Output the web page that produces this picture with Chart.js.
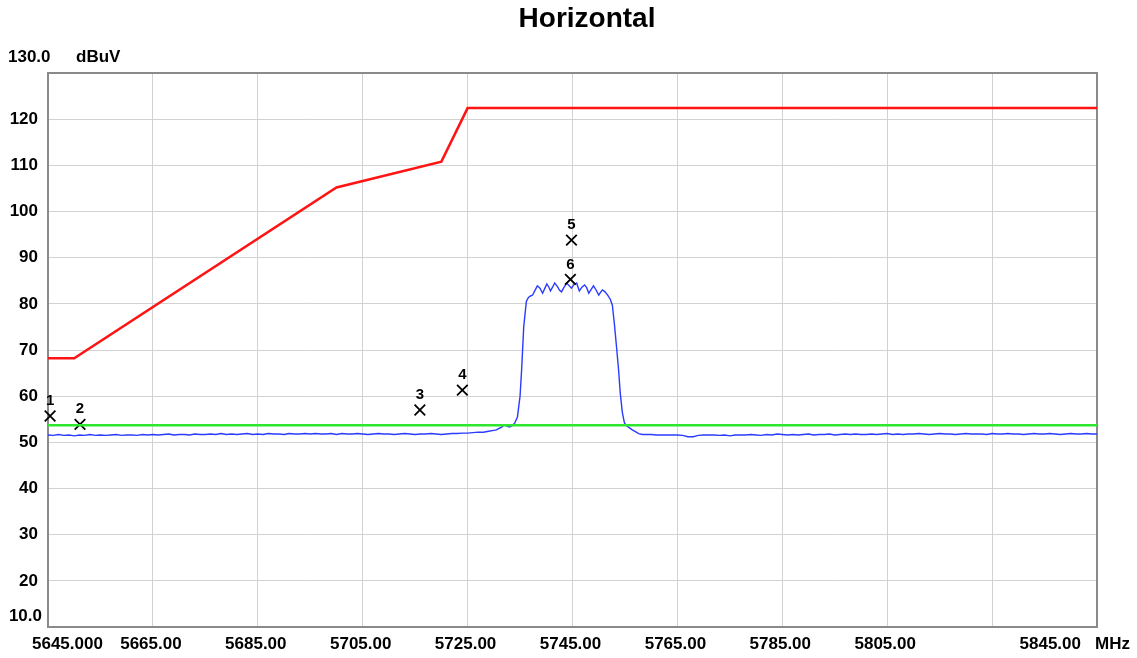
<!DOCTYPE html>
<html>
<head>
<meta charset="utf-8">
<title>Horizontal</title>
<script src="https://cdn.jsdelivr.net/npm/chart.js@4.4.1/dist/chart.umd.min.js"></script>
<style>
  html, body { margin: 0; padding: 0; background: #fff; }
  #wrap { width: 1137px; height: 658px; }
</style>
</head>
<body>
<div id="wrap"><canvas id="spectrum" width="1137" height="658"></canvas></div>
<script>
// measured trace (MHz / dBuV)
const traceFreq = [
  5645, 5646, 5647, 5648, 5649, 5650, 5651, 5652, 5653, 5654,
  5655, 5656, 5657, 5658, 5659, 5660, 5661, 5662, 5663, 5664,
  5665, 5666, 5667, 5668, 5669, 5670, 5671, 5672, 5673, 5674,
  5675, 5676, 5677, 5678, 5679, 5680, 5681, 5682, 5683, 5684,
  5685, 5686, 5687, 5688, 5689, 5690, 5691, 5692, 5693, 5694,
  5695, 5696, 5697, 5698, 5699, 5700, 5701, 5702, 5703, 5704,
  5705, 5706, 5707, 5708, 5709, 5710, 5711, 5712, 5713, 5714,
  5715, 5716, 5717, 5718, 5719, 5720, 5721, 5722,
  5723, 5724, 5725, 5726, 5727, 5728, 5729, 5730, 5730.5, 5731,
  5731.5, 5732, 5732.5, 5733, 5733.5, 5734, 5734.5, 5735, 5735.3, 5735.7,
  5736.2, 5736.6, 5737.0, 5737.4, 5737.8, 5738.3, 5738.8, 5739.3, 5739.7, 5740.1,
  5740.5, 5740.8, 5741.2, 5741.6, 5742.1, 5742.5, 5742.9, 5743.4, 5743.9, 5744.3,
  5744.8, 5745.3, 5745.8, 5746.0, 5746.3, 5746.8, 5747.3, 5747.7, 5748.1, 5748.6,
  5749.0, 5749.5, 5750.0, 5750.4, 5750.7, 5751.2, 5751.7, 5752.2, 5752.6, 5753.0,
  5753.4, 5753.8, 5754.1, 5754.5, 5754.9, 5755.3, 5755.8, 5756.4, 5757.0, 5757.6,
  5758.3,
  5759, 5760, 5761, 5762, 5763, 5764, 5765, 5766, 5767, 5768,
  5769, 5770, 5771, 5772, 5773, 5774, 5775, 5776, 5777, 5778,
  5779, 5780, 5781, 5782, 5783, 5784, 5785, 5786, 5787, 5788,
  5789, 5790, 5791, 5792, 5793, 5794, 5795, 5796, 5797, 5798,
  5799, 5800, 5801, 5802, 5803, 5804, 5805, 5806, 5807, 5808,
  5809, 5810, 5811, 5812, 5813, 5814, 5815, 5816, 5817, 5818,
  5819, 5820, 5821, 5822, 5823, 5824, 5825, 5826, 5827, 5828,
  5829, 5830, 5831, 5832, 5833, 5834, 5835, 5836, 5837, 5838,
  5839, 5840, 5841, 5842, 5843, 5844, 5845
];
const traceLevel = [
  51.6, 51.5, 51.7, 51.5, 51.6, 51.4, 51.6, 51.5, 51.7, 51.5,
  51.6, 51.5, 51.6, 51.7, 51.5, 51.6, 51.6, 51.5, 51.7, 51.6,
  51.7, 51.6, 51.7, 51.8, 51.6, 51.7, 51.7, 51.6, 51.8, 51.7,
  51.7, 51.8, 51.7, 51.9, 51.7, 51.8, 51.7, 51.8, 51.9, 51.7,
  51.8, 51.7, 51.9, 51.8, 51.8, 51.7, 51.9, 51.8, 51.8, 51.9,
  51.8, 51.9, 51.8, 51.8, 51.9, 51.7, 51.9, 51.8, 51.8, 51.9,
  51.8, 51.7, 51.8, 51.9, 51.8, 51.8, 51.7, 51.8, 51.9, 51.8,
  51.7, 51.8, 51.8, 51.9, 51.8, 51.7, 51.8, 51.9,
  51.9, 52.0, 52.0, 52.1, 52.2, 52.2, 52.4, 52.6, 52.7, 53.0,
  53.3, 53.8, 53.5, 53.3, 53.6, 54.2, 55.5, 60.0, 65.7, 75.0,
  80.5, 81.4, 81.7, 81.9, 82.8, 83.9, 83.4, 82.3, 83.3, 84.3,
  83.6, 82.8, 83.6, 84.5, 83.8, 83.0, 82.6, 83.6, 84.5, 84.0,
  83.4, 84.2, 84.5, 83.8, 82.8, 83.6, 84.1, 83.5, 82.3, 83.2,
  83.9, 83.0, 81.9, 82.6, 83.0, 82.6, 81.9, 81.0, 79.7, 75.5,
  70.6, 65.5, 60.7, 56.5, 54.2, 53.6, 53.2, 52.7, 52.3, 51.9,
  51.7,
  51.7, 51.7, 51.6, 51.6, 51.6, 51.6, 51.6, 51.5, 51.2, 51.2,
  51.5, 51.6, 51.6, 51.6, 51.5, 51.6, 51.4, 51.6, 51.6, 51.6,
  51.7, 51.6, 51.5, 51.7, 51.6, 51.8, 51.7, 51.6, 51.7, 51.6,
  51.7, 51.8, 51.6, 51.7, 51.7, 51.8, 51.6, 51.7, 51.8, 51.7,
  51.8, 51.7, 51.7, 51.8, 51.7, 51.8, 51.9, 51.7, 51.8, 51.7,
  51.8, 51.8, 51.9, 51.8, 51.7, 51.8, 51.9, 51.8, 51.8, 51.7,
  51.8, 51.9, 51.8, 51.8, 51.8, 51.7, 51.9, 51.8, 51.8, 51.9,
  51.8, 51.8, 51.7, 51.8, 51.9, 51.8, 51.8, 51.9, 51.8, 51.7,
  51.8, 51.9, 51.8, 51.8, 51.9, 51.8, 51.8
];

// limit lines
const limitFreq = [5645, 5650, 5700, 5720, 5725, 5845];
const limitLevel = [68.2, 68.2, 105.2, 110.8, 122.4, 122.4];
const avgFreq = [5645, 5845];
const avgLevel = [53.7, 53.7];

// markers
const markerFreq = [5645.4, 5651.1, 5715.9, 5724.0, 5744.8, 5744.6];
const markerLevel = [55.7, 53.9, 57.0, 61.3, 93.8, 85.3];
const markerNames = ["1", "2", "3", "4", "5", "6"];

// axis ticks
const xTickValues = [5645, 5665, 5685, 5705, 5725, 5745, 5765, 5785, 5805, 5825, 5845];
const xTickLabels = ["5645.000", "5665.00", "5685.00", "5705.00", "5725.00", "5745.00",
  "5765.00", "5785.00", "5805.00", "", "5845.00"];
const yTickValues = [10, 20, 30, 40, 50, 60, 70, 80, 90, 100, 110, 120, 130];
const yTickLabels = ["10.0", "20", "30", "40", "50", "60", "70", "80", "90", "100", "110", "120", "130.0"];

function toPoints(xs, ys) {
  return xs.map((x, i) => ({ x: x, y: ys[i] }));
}

const labelFont = "bold 17px 'Liberation Sans', Arial, sans-serif";

const decorations = {
  id: "decorations",
  beforeDatasetsDraw(chart) {
    const ctx = chart.ctx;
    const a = chart.chartArea;
    ctx.save();
    ctx.strokeStyle = "#8a8a8a";
    ctx.lineWidth = 2;
    ctx.strokeRect(a.left, a.top, a.right - a.left, a.bottom - a.top);
    ctx.restore();
  },
  afterDatasetsDraw(chart) {
    const ctx = chart.ctx;
    const xs = chart.scales.x;
    const ys = chart.scales.y;
    ctx.save();

    // title
    ctx.fillStyle = "#000";
    ctx.font = "bold 28px 'Liberation Sans', Arial, sans-serif";
    ctx.textAlign = "center";
    ctx.textBaseline = "middle";
    ctx.fillText("Horizontal", 587, 19);

    // y labels
    ctx.font = labelFont;
    yTickValues.forEach((v, i) => {
      const y = ys.getPixelForValue(v);
      if (i === 0) {
        ctx.textAlign = "right";
        ctx.fillText(yTickLabels[i], 42, y - 11);
      } else if (i === yTickValues.length - 1) {
        ctx.textAlign = "left";
        ctx.fillText(yTickLabels[i], 8, y - 16);
        ctx.fillText("dBuV", 76, y - 16);
      } else {
        ctx.textAlign = "right";
        ctx.fillText(yTickLabels[i], 38, y);
      }
    });

    // x labels
    const yLab = chart.chartArea.bottom + 17;
    xTickValues.forEach((v, i) => {
      const x = xs.getPixelForValue(v);
      const txt = xTickLabels[i];
      if (!txt) return;
      if (i === 0) {
        ctx.textAlign = "left";
        ctx.fillText(txt, x - 16, yLab);
      } else if (i === xTickValues.length - 1) {
        ctx.textAlign = "right";
        ctx.fillText(txt, x - 16, yLab);
        ctx.textAlign = "left";
        ctx.fillText("MHz", x - 2, yLab);
      } else {
        ctx.textAlign = "center";
        ctx.fillText(txt, x - 2, yLab);
      }
    });

    // marker numbers
    ctx.font = "bold 15px 'Liberation Sans', Arial, sans-serif";
    ctx.textAlign = "center";
    markerFreq.forEach((f, i) => {
      const x = xs.getPixelForValue(f);
      const y = ys.getPixelForValue(markerLevel[i]);
      ctx.fillText(markerNames[i], x, y - 15);
    });
    ctx.restore();
  }
};

new Chart(document.getElementById("spectrum"), {
  type: "scatter",
  data: {
    datasets: [
      {
        label: "Average limit",
        data: toPoints(avgFreq, avgLevel),
        showLine: true,
        borderColor: "#2ee62e",
        borderWidth: 2.5,
        pointRadius: 0,
      },
      {
        label: "Peak limit",
        data: toPoints(limitFreq, limitLevel),
        showLine: true,
        borderColor: "#ff1414",
        borderWidth: 2.5,
        pointRadius: 0,
      },
      {
        label: "Markers",
        data: toPoints(markerFreq, markerLevel),
        showLine: false,
        clip: false,
        pointStyle: "crossRot",
        pointRadius: 7.5,
        borderColor: "#000",
        borderWidth: 1.8,
      },
      {
        label: "Trace",
        data: toPoints(traceFreq, traceLevel),
        showLine: true,
        borderColor: "#2b3bff",
        borderWidth: 1.4,
        pointRadius: 0,
      },
    ],
  },
  options: {
    responsive: false,
    animation: false,
    layout: { padding: { left: 48, top: 73, right: 40, bottom: 31 } },
    plugins: {
      legend: { display: false },
      tooltip: { enabled: false },
    },
    scales: {
      x: {
        type: "linear",
        min: 5645,
        max: 5845,
        ticks: { display: false, stepSize: 20 },
        grid: { color: "#d2d2d2", lineWidth: 1, drawTicks: false },
        border: { display: false },
        afterFit(scale) { scale.height = 0; },
      },
      y: {
        min: 10,
        max: 130,
        ticks: { display: false, stepSize: 10 },
        grid: { color: "#d2d2d2", lineWidth: 1, drawTicks: false },
        border: { display: false },
        afterFit(scale) { scale.width = 0; },
      },
    },
  },
  plugins: [decorations],
});
</script>
</body>
</html>
